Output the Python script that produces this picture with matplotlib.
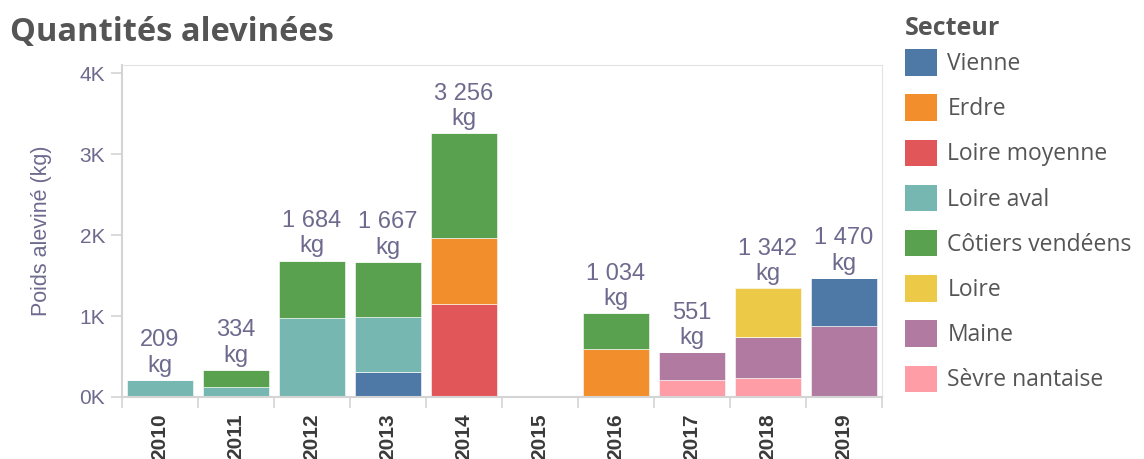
import matplotlib.pyplot as plt
from matplotlib.patches import Patch

# data (kg per sector and year)
years = ['2010', '2011', '2012', '2013', '2014', '2015', '2016', '2017', '2018', '2019']
sectors = ['Vienne', 'Erdre', 'Loire moyenne', 'Loire aval', 'Côtiers vendéens',
           'Loire', 'Maine', 'Sèvre nantaise']
colors = ['#4e79a7', '#f28e2b', '#e15759', '#76b7b2', '#59a14f',
          '#edc948', '#b07aa1', '#ff9da7']

vienne = [0, 0, 0, 305, 0, 0, 0, 0, 0, 590]
erdre = [0, 0, 0, 0, 823, 0, 589, 0, 0, 0]
loire_moyenne = [0, 0, 0, 0, 1144, 0, 0, 0, 0, 0]
loire_aval = [209, 120, 972, 686, 0, 0, 0, 0, 0, 0]
cotiers_vendeens = [0, 214, 712, 676, 1289, 0, 445, 0, 0, 0]
loire = [0, 0, 0, 0, 0, 0, 0, 0, 597, 0]
maine = [0, 0, 0, 0, 0, 0, 0, 341, 507, 880]
sevre_nantaise = [0, 0, 0, 0, 0, 0, 0, 210, 238, 0]
totals = [209, 334, 1684, 1667, 3256, None, 1034, 551, 1342, 1470]

series = {
    'Vienne': vienne,
    'Erdre': erdre,
    'Loire moyenne': loire_moyenne,
    'Loire aval': loire_aval,
    'Côtiers vendéens': cotiers_vendeens,
    'Loire': loire,
    'Maine': maine,
    'Sèvre nantaise': sevre_nantaise,
}
# bottom to top order of the stacks
stack_order = ['Sèvre nantaise', 'Maine', 'Vienne', 'Loire moyenne', 'Erdre',
               'Loire aval', 'Côtiers vendéens', 'Loire']

label_color = '#6e6a8e'
grid_color = '#d4d4d4'

fig = plt.figure(figsize=(11.44, 4.59), dpi=100)
ax = fig.add_axes([122 / 1144, 62 / 459, 760 / 1144, 332 / 459])

x = list(range(len(years)))
bottom = [0] * len(years)
for name in stack_order:
    vals = series[name]
    col = colors[sectors.index(name)]
    ax.bar(x, vals, bottom=bottom, width=0.88, color=col, edgecolor='white', linewidth=0.4)
    bottom = [b + v for b, v in zip(bottom, vals)]

for i, t in enumerate(totals):
    if t is None:
        continue
    txt = f"{t:,}".replace(',', ' ') + "\nkg"
    ax.text(i, t + 40, txt, ha='center', va='bottom', fontsize=17,
            color=label_color, family='Liberation Sans', linespacing=1.2)

ax.set_xlim(-0.5, len(years) - 0.5)
ax.set_ylim(0, 4100)
ax.set_yticks([0, 1000, 2000, 3000, 4000])
ax.set_yticklabels(['0K', '1K', '2K', '3K', '4K'], fontsize=15,
                   color=label_color, family='Liberation Sans')
ax.set_xticks(x)
ax.set_xticklabels(years, rotation=90, fontsize=15, fontweight='bold',
                   color='#3a3a3a', family='Liberation Sans')
ax.set_xticks([i - 0.5 for i in range(len(years) + 1)], minor=True)
ax.tick_params(axis='x', which='major', length=0, pad=12)
ax.tick_params(axis='x', which='minor', length=8, color=grid_color, width=1.2)
ax.tick_params(axis='y', length=8, color=grid_color, width=1.2, pad=4)

for side in ['top', 'right']:
    ax.spines[side].set_color('#e2e2e2')
for side in ['left', 'bottom']:
    ax.spines[side].set_color(grid_color)
    ax.spines[side].set_linewidth(1.5)

ax.set_ylabel('Poids aleviné (kg)', fontsize=15.5, color=label_color,
              family='Liberation Sans', labelpad=20)

fig.text(10 / 1144, 1 - 33 / 459, 'Quantités alevinées', fontsize=23.5,
         fontweight='bold', color='#555555', family='Open Sans', va='center')

handles = [Patch(facecolor=c, edgecolor='none') for c in colors]
leg = fig.legend(handles, sectors, loc='upper left', bbox_to_anchor=(898 / 1144, 1 - 9 / 459),
                 frameon=False, title='Secteur', handlelength=1.4,
                 handleheight=1.4, labelspacing=0.8, handletextpad=0.45, borderaxespad=0,
                 borderpad=0.3,
                 prop={'family': 'Open Sans', 'size': 16.5},
                 title_fontproperties={'family': 'Open Sans', 'size': 18, 'weight': 'bold'})
leg._legend_box.align = 'left'
leg._legend_box.sep = 6  # tighter gap between title and entries
leg.get_title().set_color('#555555')
for t in leg.get_texts():
    t.set_color('#555555')

fig.savefig('out.png', dpi=100)
